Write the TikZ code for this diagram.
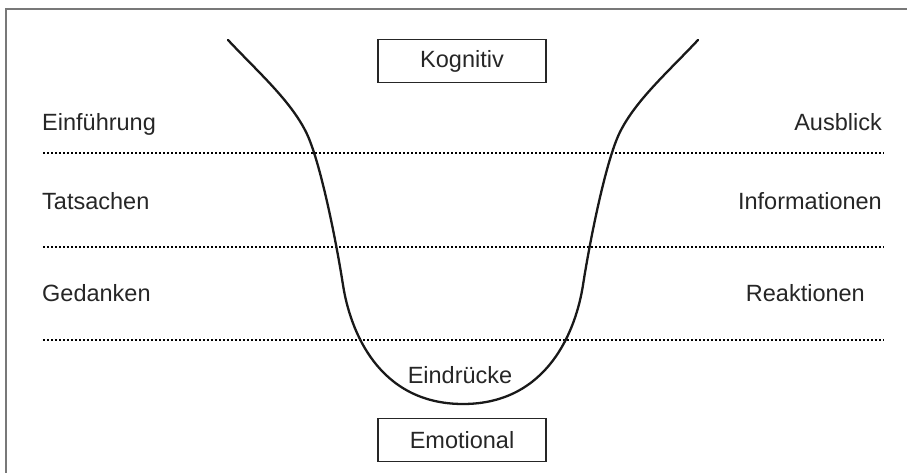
\documentclass[tikz,border=0pt]{standalone}
\usepackage{fontspec}
\setmainfont{Liberation Sans}
\usepackage{tikz}
\usetikzlibrary{positioning,calc}
\definecolor{framegray}{RGB}{120,120,120}

\begin{document}
\begin{tikzpicture}[
    x=1pt, y=-1pt,
    lbl/.style={inner sep=0pt, font=\fontsize{23.5}{28}\selectfont, text=black!85},
    levelbox/.style={rectangle, draw=black!85, line width=1.1pt, minimum width=168pt, minimum height=43pt, font=\fontsize{23.5}{28}\selectfont, text=black!85},
    sepline/.style={line width=2.3pt, black, dash pattern=on 2.2pt off 1.8pt},
    funnel/.style={line width=2.3pt, black!90, line cap=round}
]
    \useasboundingbox (0,0) rectangle (907,473);

    % Frame
    \draw[framegray, line width=2pt] (6,473) -- (6,9) -- (907,9);

    % Levels
    \node[levelbox] (kog) at (462,61) {Kognitiv};
    \node[levelbox] (emo) at (462,440) {Emotional};

    % Left column
    \node[lbl, anchor=base west] (einf) at (42,131) {Einführung};
    \node[lbl, anchor=base west] (tats) at (42,210) {Tatsachen};
    \node[lbl, anchor=base west] (ged) at (42,301) {Gedanken};

    % Right column
    \node[lbl, anchor=base east] (ausb) at (882,131) {Ausblick};
    \node[lbl, anchor=base east] (info) at (882,210) {Informationen};
    \node[lbl, anchor=base east] (reak) at (865,301) {Reaktionen};

    \node[lbl, anchor=base] (eindr) at (460,383) {Eindrücke};

    % Dotted separators
    \coordinate (s1l) at (43,153);  \coordinate (s1r) at (884,153);
    \coordinate (s2l) at (43,247);  \coordinate (s2r) at (884,247);
    \coordinate (s3l) at (43,340);  \coordinate (s3r) at (884,340);
    \draw[sepline] (s1l) -- (s1r);
    \draw[sepline] (s2l) -- (s2r);
    \draw[sepline] (s3l) -- (s3r);

    % Funnel
    \draw[funnel] (228,40) .. controls (258,72) and (290,100) .. (306,132)
        .. controls (320,160) and (336,240) .. (343,285)
        .. controls (350,330) and (378,404) .. (463,404)
        .. controls (548,404) and (576,330) .. (583,285)
        .. controls (590,240) and (606,160) .. (620,132)
        .. controls (636,100) and (668,72) .. (698,40);

\end{tikzpicture}
\end{document}
